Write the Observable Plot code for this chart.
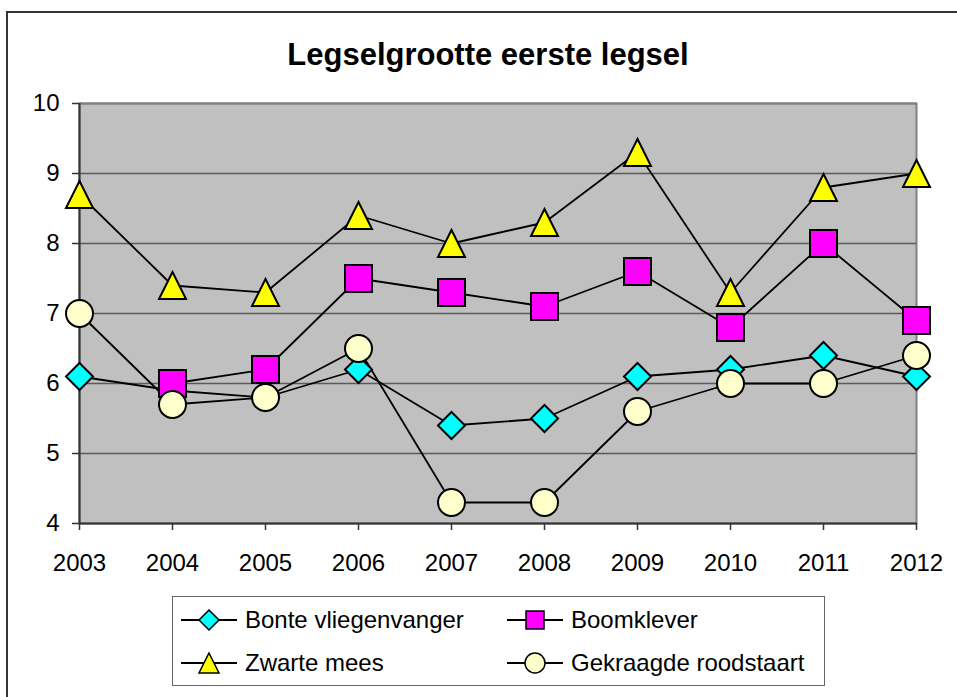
<!DOCTYPE html>
<html>
<head>
<meta charset="utf-8">
<script src="https://cdn.jsdelivr.net/npm/d3@7"></script>
<script src="https://cdn.jsdelivr.net/npm/@observablehq/plot@0.6"></script>
<style>
  html, body { margin: 0; padding: 0; background: #fff; }
  #wrap { position: relative; width: 957px; height: 697px; overflow: hidden; font-family: "Liberation Sans", Arial, sans-serif; }
  #border { position: absolute; left: 6px; top: 11px; width: 1000px; height: 800px; border-left: 2px solid #333; border-top: 2px solid #333; box-sizing: border-box; }
  #title { position: absolute; left: 0; width: 976px; top: 39px; line-height: 31px; text-align: center; font-weight: bold; font-size: 31px; color: #000; }
  #chart { position: absolute; left: 0; top: 80px; }
  #legend { position: absolute; left: 172px; top: 596px; width: 653px; height: 90px; border: 1.5px solid #666; box-sizing: border-box; background: #fff; }
  .item { position: absolute; display: flex; align-items: center; font-size: 24px; color: #000; height: 30px; white-space: nowrap; }
  .item svg { margin-right: 8px; }
</style>
</head>
<body>
<div id="wrap">
  <div id="border"></div>
  <div id="title">Legselgrootte eerste legsel</div>
  <div id="chart"></div>
  <div id="legend"></div>
</div>
<script>
const years = [2003, 2004, 2005, 2006, 2007, 2008, 2009, 2010, 2011, 2012];
const seriesNames = ["Bonte vliegenvanger", "Boomklever", "Zwarte mees", "Gekraagde roodstaart"];
const bonte = [6.1, 5.9, 5.8, 6.2, 5.4, 5.5, 6.1, 6.2, 6.4, 6.1];
const boomklever = [null, 6.0, 6.2, 7.5, 7.3, 7.1, 7.6, 6.8, 8.0, 6.9];
const zwarte = [8.7, 7.4, 7.3, 8.4, 8.0, 8.3, 9.3, 7.3, 8.8, 9.0];
const roodstaart = [7.0, 5.7, 5.8, 6.5, 4.3, 4.3, 5.6, 6.0, 6.0, 6.4];
const yTicks = [4, 5, 6, 7, 8, 9, 10];

const colors = ["#00FFFF", "#FF00FF", "#FFFF00", "#FFFFCC"];
const h = s => Math.sqrt(s / Math.PI);
const symDiamond = {draw(c, s) { const r = h(s); c.moveTo(0, -r); c.lineTo(r, 0); c.lineTo(0, r); c.lineTo(-r, 0); c.closePath(); }};
const symSquare = {draw(c, s) { const r = h(s); c.moveTo(-r, -r); c.lineTo(r, -r); c.lineTo(r, r); c.lineTo(-r, r); c.closePath(); }};
const symTriangle = {draw(c, s) { const r = h(s); c.moveTo(0, -r); c.lineTo(r, r); c.lineTo(-r, r); c.closePath(); }};
const symCircle = {draw(c, s) { const r = h(s); c.moveTo(r, 0); c.arc(0, 0, r, 0, 2 * Math.PI); c.closePath(); }};
const symbols = [symDiamond, symSquare, symTriangle, symCircle];
const seriesValues = [bonte, boomklever, zwarte, roodstaart];

const table = seriesValues.map((vals, i) =>
  years.map((y, j) => ({year: y, value: vals[j], series: seriesNames[i]})));

const lineMarks = table.map(rows =>
  Plot.line(rows.filter(d => d.value != null), {x: "year", y: "value", stroke: "#000", strokeWidth: 1.8}));
const dotMarks = table.map((rows, i) =>
  Plot.dot(rows.filter(d => d.value != null), {x: "year", y: "value", r: 13.5, symbol: symbols[i], fill: colors[i], stroke: "#000", strokeWidth: 2}));

const plot = Plot.plot({
  width: 957,
  height: 500,
  marginLeft: 79,
  marginRight: 41,
  marginTop: 23,
  marginBottom: 57,
  style: {fontFamily: "Liberation Sans, Arial, sans-serif", fontSize: "24px", color: "#000", background: "transparent", overflow: "visible"},
  x: {type: "linear", domain: [2003, 2012]},
  y: {domain: [4, 10]},
  marks: [
    Plot.frame({fill: "#C0C0C0", stroke: "#808080", strokeWidth: 2}),
    Plot.ruleY(yTicks.filter(t => t > 4 && t < 10), {y: d => d, stroke: "#5a5a5a", strokeWidth: 1.5}),
    Plot.ruleY([10], {y: d => d, stroke: "#808080", strokeWidth: 2}),
    Plot.ruleX([2003], {x: d => d, stroke: "#333", strokeWidth: 2}),
    Plot.ruleY([4], {y: d => d, stroke: "#333", strokeWidth: 2}),
    Plot.axisX({ticks: years, tickFormat: d => String(d), tickSize: 7, tickPadding: 23, stroke: "#333", strokeWidth: 1.5, fontSize: 24, label: null}),
    Plot.axisY({ticks: yTicks, tickFormat: d => String(d), tickSize: 7, tickPadding: 13, stroke: "#333", strokeWidth: 1.5, fontSize: 24, label: null}),
    ...lineMarks,
    ...dotMarks
  ]
});
document.getElementById("chart").appendChild(plot);

// legend
const legend = document.getElementById("legend");
const pos = [[8, 8], [334, 8], [8, 51], [334, 51]];
const lsize = [10, 9, 10, 10];
seriesNames.forEach((name, i) => {
  const item = document.createElement("div");
  item.className = "item";
  item.style.left = pos[i][0] + "px";
  item.style.top = pos[i][1] + "px";
  const ns = "http://www.w3.org/2000/svg";
  const svg = document.createElementNS(ns, "svg");
  svg.setAttribute("width", 56); svg.setAttribute("height", 30);
  const ln = document.createElementNS(ns, "line");
  ln.setAttribute("x1", 0); ln.setAttribute("x2", 56); ln.setAttribute("y1", 15); ln.setAttribute("y2", 15);
  ln.setAttribute("stroke", "#000"); ln.setAttribute("stroke-width", 2);
  svg.appendChild(ln);
  const p = d3.path();
  symbols[i].draw(p, Math.PI * lsize[i] * lsize[i]);
  const path = document.createElementNS(ns, "path");
  path.setAttribute("d", p.toString());
  path.setAttribute("transform", "translate(28,15)");
  path.setAttribute("fill", colors[i]); path.setAttribute("stroke", "#000"); path.setAttribute("stroke-width", 1.5);
  svg.appendChild(path);
  item.appendChild(svg);
  const span = document.createElement("span");
  span.textContent = name;
  item.appendChild(span);
  legend.appendChild(item);
});
</script>
</body>
</html>
